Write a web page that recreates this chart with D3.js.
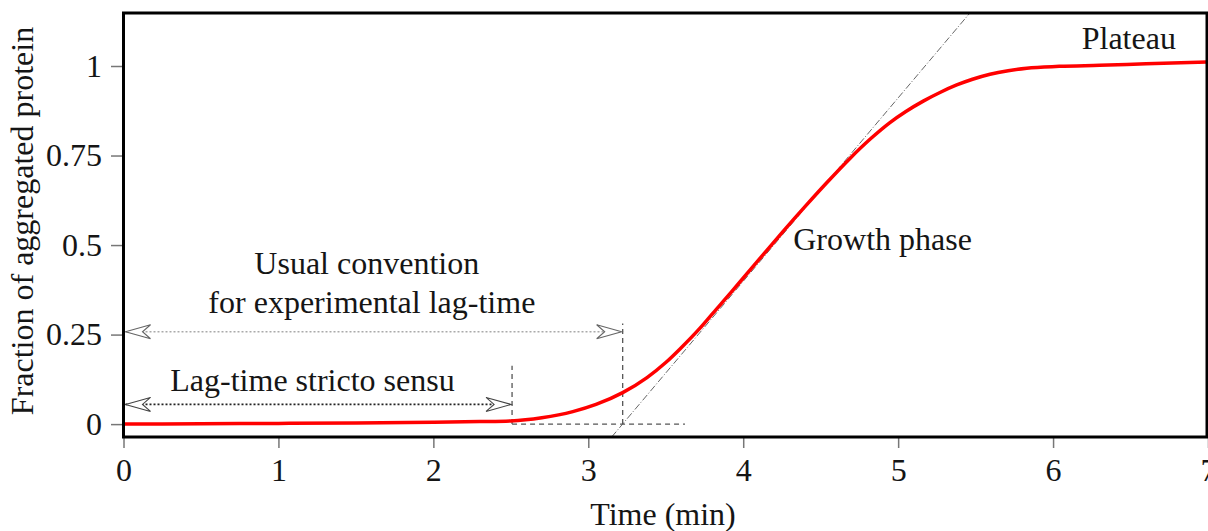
<!DOCTYPE html>
<html>
<head>
<meta charset="utf-8">
<script src="https://cdn.jsdelivr.net/npm/d3@7"></script>
<style>
  html, body { margin: 0; padding: 0; background: #fff; }
  svg { display: block; }
  text { font-family: "Liberation Serif", "Times New Roman", serif; fill: #151515; }
</style>
</head>
<body>
<svg id="chart" width="1208" height="531"></svg>
<script>
// ---- data ----
const timeMin = [0, 0.5, 1, 1.5, 2, 2.3, 2.5, 2.7, 2.9, 3.05, 3.222, 3.379, 3.5, 3.592, 3.721, 3.805, 3.92, 4.024, 4.14, 4.259, 4.4, 4.539, 4.689, 4.82, 4.947, 5.05, 5.162, 5.27, 5.378, 5.48, 5.593, 5.71, 5.83, 6.04, 6.3, 6.6, 7];
const fraction = [0, 0.001, 0.002, 0.003, 0.005, 0.007, 0.009, 0.018, 0.035, 0.055, 0.088, 0.13, 0.172, 0.21, 0.268, 0.31, 0.367, 0.42, 0.479, 0.539, 0.608, 0.674, 0.742, 0.796, 0.842, 0.873, 0.902, 0.926, 0.947, 0.963, 0.977, 0.987, 0.994, 0.999, 1.002, 1.006, 1.011];

const xTicks = [0, 1, 2, 3, 4, 5, 6, 7];
const yTicks = [0, 0.25, 0.5, 0.75, 1];
const yTickLabels = ["0", "0.25", "0.5", "0.75", "1"];

const lagStricto = 2.508;        // end of "Lag-time stricto sensu"
const lagUsual = 3.222;          // tangent intercept (usual convention)
const lagStrictoArrowY = 0.055;
const lagUsualArrowY = 0.258;
const lagStrictoMarkTop = 0.163;
const lagUsualMarkTop = 0.281;
const baselineEnd = 3.624;
const tangentT = [3.151, 5.459];
const tangentY = [-0.036, 1.146];

const labelTexts = ["Usual convention", "for experimental lag-time", "Lag-time stricto sensu", "Growth phase", "Plateau"];
const labelT = [1.57, 1.603, 1.22, 4.323, 6.185];
const labelY = [0.418, 0.309, 0.092, 0.486, 1.047];
const labelAnchor = ["middle", "middle", "middle", "start", "start"];

// ---- layout ----
const svg = d3.select("#chart");
const pLeft = 123.5, pRight = 1207, pTop = 13, pBottom = 437;
const x = d3.scaleLinear().domain([0, 7]).range([pLeft, 1208]);
const y = d3.scaleLinear().domain([-0.036, 1.148]).range([pBottom, pTop]);
const FS = 32;

// axes
const yAxis = d3.axisLeft(y).tickValues(yTicks).tickFormat((d, i) => yTickLabels[i])
  .tickSize(12.5).tickPadding(9);
const gy = svg.append("g").attr("transform", `translate(${pLeft},0)`).call(yAxis);
gy.select(".domain").remove();
gy.selectAll(".tick line").attr("stroke", "#777").attr("stroke-width", 1.5);
gy.selectAll(".tick text").style("font-size", FS + "px").attr("fill", "#151515")
  .style("font-family", '"Liberation Serif", serif');

const xAxis = d3.axisBottom(x).tickValues(xTicks).tickFormat(d3.format("d"))
  .tickSize(11).tickPadding(10);
const gx = svg.append("g").attr("transform", `translate(0,${pBottom})`).call(xAxis);
gx.select(".domain").remove();
gx.selectAll(".tick line").attr("stroke", "#777").attr("stroke-width", 1.5);
gx.selectAll(".tick text").style("font-size", FS + "px").attr("fill", "#151515")
  .style("font-family", '"Liberation Serif", serif');

// axis titles
svg.append("text").attr("x", 663).attr("y", 525).attr("text-anchor", "middle")
  .style("font-size", FS + "px").text("Time (min)");
svg.append("text").attr("transform", `translate(33,221) rotate(-90)`)
  .attr("text-anchor", "middle").style("font-size", FS + "px").text("Fraction of aggregated protein");

// clip
svg.append("clipPath").attr("id", "plotclip").append("rect")
  .attr("x", pLeft).attr("y", pTop).attr("width", pRight - pLeft).attr("height", pBottom - pTop);
const plot = svg.append("g").attr("clip-path", "url(#plotclip)");

// tangent (dash-dot)
plot.append("line")
  .attr("x1", x(tangentT[0])).attr("y1", y(tangentY[0]))
  .attr("x2", x(tangentT[1])).attr("y2", y(tangentY[1]))
  .attr("stroke", "#666").attr("stroke-width", 1).attr("stroke-dasharray", "7,2,1,2");

// dashed helper lines
const dashStyle = sel => sel.attr("stroke", "#555").attr("stroke-width", 1.3).attr("stroke-dasharray", "5,4");
dashStyle(plot.append("line").attr("x1", x(lagStricto)).attr("x2", x(baselineEnd))
  .attr("y1", y(0)).attr("y2", y(0)));
dashStyle(plot.append("line").attr("x1", x(lagStricto)).attr("x2", x(lagStricto))
  .attr("y1", y(0)).attr("y2", y(lagStrictoMarkTop)));
dashStyle(plot.append("line").attr("x1", x(lagUsual)).attr("x2", x(lagUsual))
  .attr("y1", y(0)).attr("y2", y(lagUsualMarkTop)));

// double arrows
function arrowHead(g, tipX, tipY, dir, color) {
  const L = 25, h = 7, n = 17;
  const p = [[0, 0], [L, -h], [n, 0], [L, h]].map(([a, b]) => [tipX + dir * a, tipY + b]);
  g.append("path").attr("d", "M" + p.join("L") + "Z")
    .attr("fill", "#fff").attr("stroke", color).attr("stroke-width", 1.1);
}
function doubleArrow(t0, t1, yv, lineColor, headColor) {
  const g = plot.append("g");
  g.append("line").attr("x1", x(t0) + 2).attr("x2", x(t1) - 2)
    .attr("y1", y(yv)).attr("y2", y(yv))
    .attr("stroke", lineColor).attr("stroke-width", 1.6).attr("stroke-dasharray", "2,2");
  arrowHead(g, x(t0) + 2, y(yv), 1, headColor);
  arrowHead(g, x(t1) - 1, y(yv), -1, headColor);
}
doubleArrow(0, lagUsual, lagUsualArrowY, "#aaa", "#666");
doubleArrow(0, lagStricto, lagStrictoArrowY, "#222", "#444");

// curve
const pts = timeMin.map((t, i) => [t, fraction[i]]);
plot.append("path").datum(pts)
  .attr("d", d3.line().x(d => x(d[0])).y(d => y(d[1])).curve(d3.curveMonotoneX))
  .attr("fill", "none").attr("stroke", "#ff0000").attr("stroke-width", 3.5)
  .attr("stroke-linejoin", "round");

// annotations
labelTexts.forEach((txt, i) => {
  svg.append("text").attr("x", x(labelT[i])).attr("y", y(labelY[i])).attr("text-anchor", labelAnchor[i])
    .style("font-size", FS + "px").text(txt);
});

// frame
svg.append("rect").attr("x", pLeft).attr("y", pTop).attr("width", pRight - pLeft).attr("height", pBottom - pTop)
  .attr("fill", "none").attr("stroke", "#000").attr("stroke-width", 3);
</script>
</body>
</html>
